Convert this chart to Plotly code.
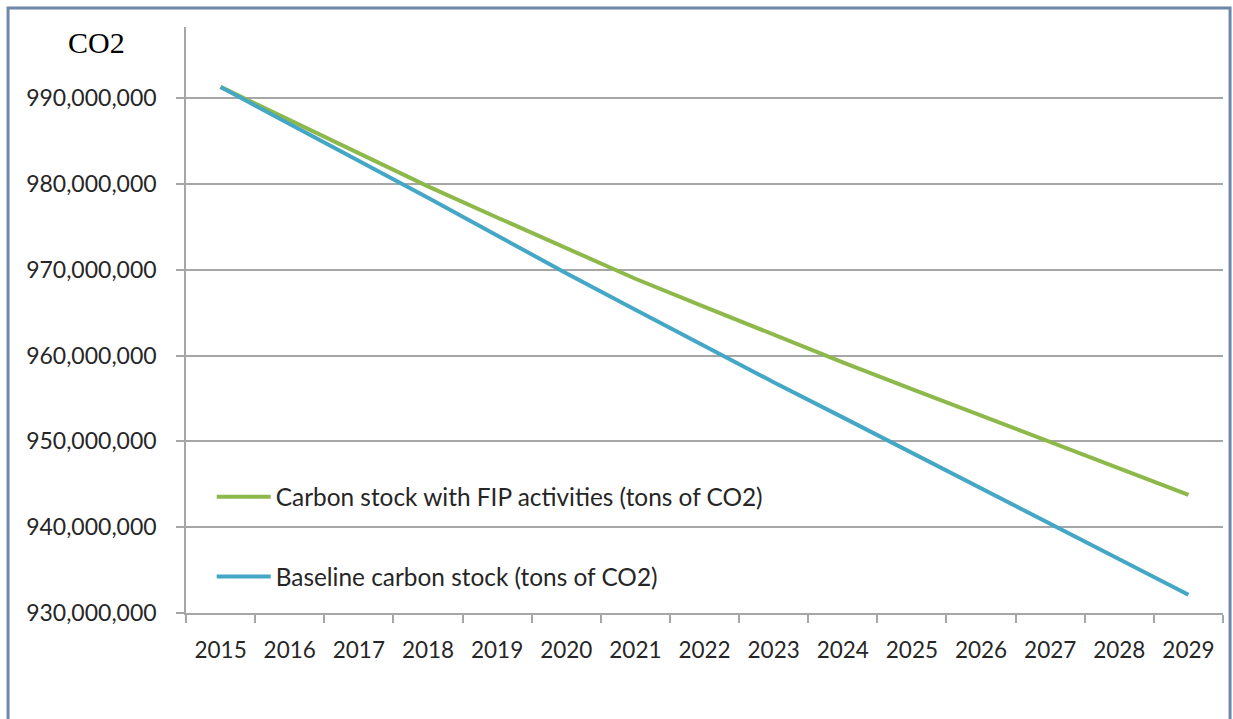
import plotly.graph_objects as go

# Projection years and carbon stock (tons of CO2)
years = [str(y) for y in range(2015, 2030)]
with_fip = [991.32e6, 987.42e6, 983.52e6, 979.73e6, 976.10e6, 972.47e6, 968.96e6,
            965.69e6, 962.42e6, 959.20e6, 956.10e6, 953.00e6, 949.90e6, 946.84e6,
            943.76e6]
baseline = [991.30e6, 987.03e6, 982.74e6, 978.40e6, 974.00e6, 969.60e6, 965.34e6,
            961.06e6, 956.90e6, 952.80e6, 948.70e6, 944.54e6, 940.39e6, 936.27e6,
            932.13e6]
y_ticks = [930e6, 940e6, 950e6, 960e6, 970e6, 980e6, 990e6]

GREEN = "#8DB84A"
BLUE = "#44A7C6"
GRID = "#A6A6A6"
TEXT = "#262626"
FONT = "Lato"

fig = go.Figure()
fig.add_trace(go.Scatter(
    x=years, y=with_fip, mode="lines", name="Carbon stock with FIP activities (tons of CO2)",
    line=dict(color=GREEN, width=4), legend="legend",
))
fig.add_trace(go.Scatter(
    x=years, y=baseline, mode="lines", name="Baseline carbon stock (tons of CO2)",
    line=dict(color=BLUE, width=4), legend="legend2",
))

legend_style = dict(
    x=0.0248, xanchor="left", yanchor="middle",
    bgcolor="rgba(0,0,0,0)", borderwidth=0,
    font=dict(family=FONT, size=24.4, color=TEXT),
    itemwidth=54,
)

fig.update_layout(
    width=1233, height=719,
    margin=dict(l=186, r=10, t=27, b=106),
    paper_bgcolor="white", plot_bgcolor="white",
    showlegend=True,
    legend=dict(y=0.198, **legend_style),
    legend2=dict(y=0.062, **legend_style),
    xaxis=dict(
        type="category", showgrid=False, showline=True, linecolor=GRID, linewidth=1.5,
        ticks="outside", tickson="boundaries", ticklen=8, tickcolor=GRID, tickwidth=1.5,
        tickfont=dict(family=FONT, size=22.5, color=TEXT), ticklabelstandoff=16,
        range=[-0.5, len(years) - 0.5],
    ),
    yaxis=dict(
        range=[930e6, 998.3e6], tickvals=y_ticks, tickformat=",d",
        showgrid=True, gridcolor=GRID, gridwidth=1.5,
        showline=True, linecolor=GRID, linewidth=1.5,
        ticks="outside", ticklen=8, tickcolor=GRID, tickwidth=1.5,
        tickfont=dict(family=FONT, size=23, color=TEXT), ticklabelstandoff=15,
        zeroline=False,
    ),
    annotations=[dict(
        text="CO2", xref="paper", yref="paper", x=-0.086, y=0.973,
        xanchor="center", yanchor="middle", showarrow=False,
        font=dict(family="Liberation Serif", size=30, color="black"),
    )],
    shapes=[
        dict(type="rect", xref="paper", yref="paper", x0=-0.1716, x1=1.0068,
             y0=-0.19, y1=1.0324, line=dict(color="#6F87AB", width=3), layer="below"),
    ],
)

fig.write_html("out.html")
